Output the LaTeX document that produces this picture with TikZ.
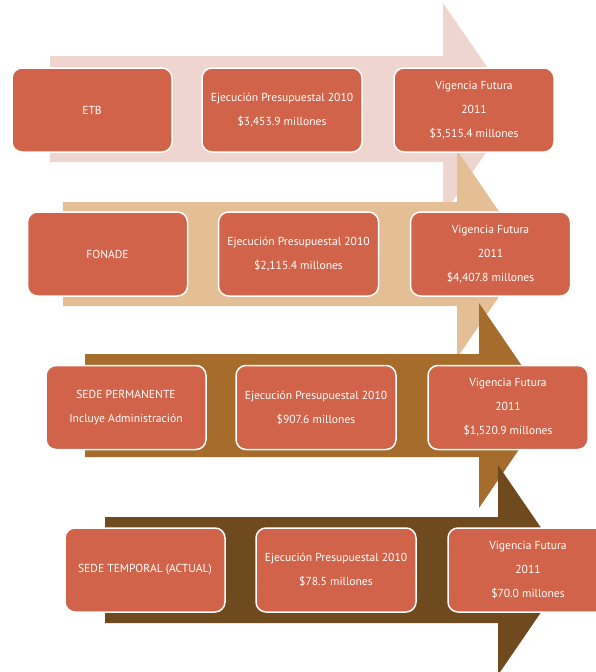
\documentclass[tikz,border=0pt]{standalone}
\usepackage{fontspec}
\setmainfont{PT Sans}
\definecolor{caja}{HTML}{D0634A}
\definecolor{rosa}{HTML}{EFD5D0}
\definecolor{arena}{HTML}{E4BE94}
\definecolor{cafe}{HTML}{A66C2C}
\definecolor{oscuro}{HTML}{6F4A1E}
\begin{document}
\begin{tikzpicture}[x=1pt,y=-1pt,
	caja/.style={rectangle, rounded corners=10pt, draw=white, line width=1.5pt, fill=caja,
		minimum width=160pt, minimum height=84pt, text=white, align=center,
		font=\fontsize{11.6pt}{24pt}\selectfont}]
	\useasboundingbox (0,0) rectangle (595,672);
	% flechas de fondo
	\fill [rosa]   (50,56)  -- (443,56)  -- (443,3)   -- (516,109)   -- (443,215) -- (443,162) -- (50,162)  -- cycle;
	\fill [arena]  (63,202) -- (457,202) -- (457,150) -- (528,254)   -- (457,358) -- (457,306) -- (63,306)  -- cycle;
	\fill [cafe]   (85,354) -- (479,354) -- (479,303) -- (549,405.5) -- (479,508) -- (479,457) -- (85,457)  -- cycle;
	\fill [oscuro] (105,517) -- (498,517) -- (498,465) -- (570,570) -- (498,675) -- (498,623) -- (105,623) -- cycle;
	% ETB
	\node (E1) at ( 92,  110)	[caja]	{ETB};
	\node (E2) at (282,  110)	[caja]	{Ejecución Presupuestal 2010\\\$3,453.9 millones};
	\node (E3) at (474,  110)	[caja]	{Vigencia Futura\\2011\\\$3,515.4 millones};
	% FONADE
	\node (F1) at (107.5, 254)	[caja]	{FONADE};
	\node (F2) at (298.5, 254)	[caja]	{Ejecución Presupuestal 2010\\\$2,115.4 millones};
	\node (F3) at (490.5, 254)	[caja]	{Vigencia Futura\\2011\\\$4,407.8 millones};
	% sede permanente
	\node (P1) at (126, 407.5)	[caja]	{SEDE PERMANENTE\\Incluye Administración};
	\node (P2) at (316, 407.5)	[caja]	{Ejecución Presupuestal 2010\\\$907.6 millones};
	\node (P3) at (508, 407.5)	[caja]	{Vigencia Futura\\2011\\\$1,520.9 millones};
	% sede temporal
	\node (T1) at (145, 570)	[caja]	{SEDE TEMPORAL (ACTUAL)};
	\node (T2) at (336, 570)	[caja]	{Ejecución Presupuestal 2010\\\$78.5 millones};
	\node (T3) at (528, 570)	[caja]	{Vigencia Futura\\2011\\\$70.0 millones};
\end{tikzpicture}
\end{document}
